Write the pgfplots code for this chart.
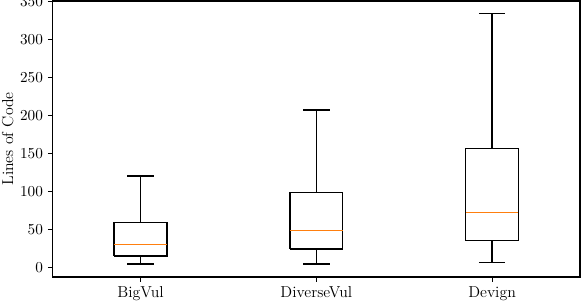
\documentclass[border=0pt]{standalone}
\usepackage{pgfplots}
\pgfplotsset{compat=1.18}
\definecolor{mplorange}{HTML}{FF7F0E}
\begin{document}
\begin{tikzpicture}
\begin{axis}[
  at={(0,0)}, anchor=south west,
  scale only axis, width=379.7pt, height=198.7pt,
  xmin=0.5, xmax=3.5, ymin=-12.8, ymax=350.4,
  xtick={1,2,3}, xticklabels={BigVul,DiverseVul,Devign},
  ytick={0,50,...,350},
  tick align=outside, major tick length=3.5pt,
  xtick pos=left, ytick pos=left,
  axis line style={line width=0.8pt, black},
  tick style={line width=0.8pt, black},
  ylabel={Lines of Code},
  ylabel style={at={(axis description cs:-0.0854,0.5)}, anchor=center},
  label style={font=\fontsize{11.4}{13}\selectfont},
  tick label style={font=\fontsize{11.4}{13}\selectfont},
  every axis plot/.append style={line width=1pt, line join=miter},
]
% BigVul: lower whisker 4, Q1 15, median 30, Q3 59, upper whisker 120
\addplot[black] coordinates {(0.85,15) (1.15,15) (1.15,59) (0.85,59) (0.85,15)};
\addplot[black] coordinates {(1,59) (1,120)};
\addplot[black] coordinates {(0.925,120) (1.075,120)};
\addplot[black] coordinates {(1,15) (1,4)};
\addplot[black] coordinates {(0.925,4) (1.075,4)};
\addplot[mplorange] coordinates {(0.85,30) (1.15,30)};
% DiverseVul: 4.3, 24, 48.6, 98, 207
\addplot[black] coordinates {(1.85,24) (2.15,24) (2.15,98) (1.85,98) (1.85,24)};
\addplot[black] coordinates {(2,98) (2,207)};
\addplot[black] coordinates {(1.925,207) (2.075,207)};
\addplot[black] coordinates {(2,24) (2,4.3)};
\addplot[black] coordinates {(1.925,4.3) (2.075,4.3)};
\addplot[mplorange] coordinates {(1.85,48.6) (2.15,48.6)};
% Devign: 6.6, 35, 72.4, 156, 334
\addplot[black] coordinates {(2.85,35) (3.15,35) (3.15,156) (2.85,156) (2.85,35)};
\addplot[black] coordinates {(3,156) (3,334)};
\addplot[black] coordinates {(2.925,334) (3.075,334)};
\addplot[black] coordinates {(3,35) (3,6.6)};
\addplot[black] coordinates {(2.925,6.6) (3.075,6.6)};
\addplot[mplorange] coordinates {(2.85,72.4) (3.15,72.4)};
\end{axis}
\pgfresetboundingbox
\useasboundingbox (-37.9pt,-17.3pt) rectangle (380.4pt,199.4pt);
\end{tikzpicture}
\end{document}
